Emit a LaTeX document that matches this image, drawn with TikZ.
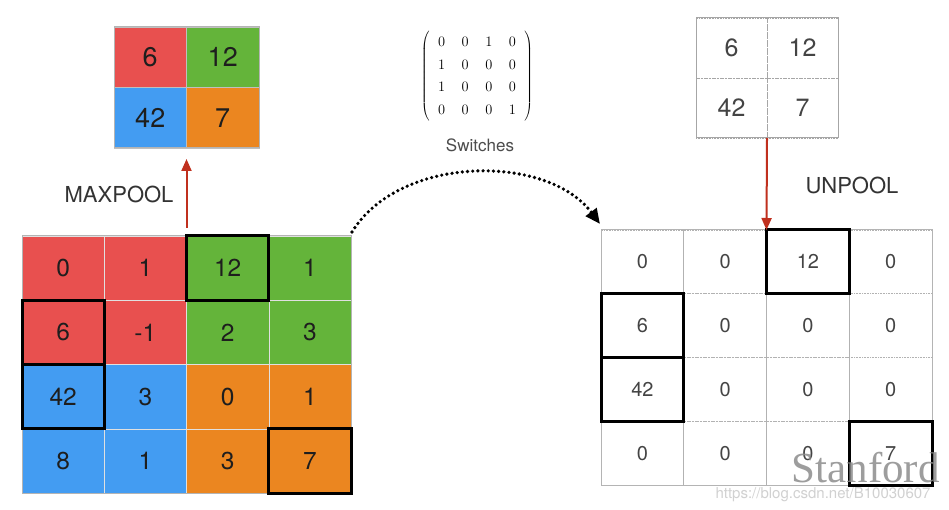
\documentclass[tikz,border=0pt]{standalone}
\usepackage{fontspec}
\setmainfont{TeX Gyre Heros}
\newfontfamily\wmserif{Liberation Serif}
\usetikzlibrary{arrows.meta}
\definecolor{cred}{HTML}{E8504F}
\definecolor{cgreen}{HTML}{64B43A}
\definecolor{cblue}{HTML}{439CF2}
\definecolor{corange}{HTML}{EB8620}
\definecolor{ctext}{HTML}{1E1E1E}
\definecolor{ctextg}{HTML}{444444}
\definecolor{carrow}{HTML}{C0301E}
\definecolor{cborder}{HTML}{B4B4B4}
\tikzset{
  scell/.style={draw=black!25, line width=0.4pt, minimum width=72.5pt, minimum height=60.5pt, inner sep=0pt, outer sep=0pt, text=ctext, font=\fontsize{27}{30}\selectfont},
  bcell/.style={draw=black!12, line width=0.4pt, minimum width=82.25pt, minimum height=64.25pt, inner sep=0pt, outer sep=0pt, text=ctext, font=\fontsize{24.5}{28}\selectfont},
  wscell/.style={draw=black!35, densely dotted, line width=0.6pt, minimum width=71pt, minimum height=60pt, inner sep=0pt, outer sep=0pt, text=ctextg, font=\fontsize{25}{28}\selectfont},
  wbcell/.style={draw=black!30, densely dotted, line width=0.6pt, minimum width=82.75pt, minimum height=63.75pt, inner sep=0pt, outer sep=0pt, text=ctextg, font=\fontsize{20}{24}\selectfont},
  hl/.style={draw=black, line width=3pt},
  frame/.style={draw=cborder, line width=1pt},
  redarrow/.style={draw=carrow, line width=2pt, -{Triangle[length=12pt,width=10pt]}},
  lbl/.style={text=black!80, font=\fontsize{22}{24}\selectfont},
}
\begin{document}
\begin{tikzpicture}[x=1pt,y=-1pt]
\useasboundingbox (0,0) rectangle (949,510);
\fill[white] (0,0) rectangle (949,510);

% ---------- small pooled grid (top left)
\node[scell, fill=cred]    (S11) at (150.25,57.25) {6};
\node[scell, fill=cgreen]  (S12) at (222.75,57.25) {12};
\node[scell, fill=cblue]   (S21) at (150.25,117.75) {42};
\node[scell, fill=corange] (S22) at (222.75,117.75) {7};
\draw[frame] (S11.north west) rectangle (S22.south east);

% ---------- big input grid (bottom left)
\foreach \r/\y in {1/268.125, 2/332.375, 3/396.625, 4/460.875}{
  \foreach \c/\x in {1/63.125, 2/145.375, 3/227.625, 4/309.875}{
    \coordinate (LC\r\c) at (\x,\y);
  }
}
\node[bcell, fill=cred]    (L11) at (LC11) {0};
\node[bcell, fill=cred]    (L12) at (LC12) {1};
\node[bcell, fill=cgreen]  (L13) at (LC13) {12};
\node[bcell, fill=cgreen]  (L14) at (LC14) {1};
\node[bcell, fill=cred]    (L21) at (LC21) {6};
\node[bcell, fill=cred]    (L22) at (LC22) {-1};
\node[bcell, fill=cgreen]  (L23) at (LC23) {2};
\node[bcell, fill=cgreen]  (L24) at (LC24) {3};
\node[bcell, fill=cblue]   (L31) at (LC31) {42};
\node[bcell, fill=cblue]   (L32) at (LC32) {3};
\node[bcell, fill=corange] (L33) at (LC33) {0};
\node[bcell, fill=corange] (L34) at (LC34) {1};
\node[bcell, fill=cblue]   (L41) at (LC41) {8};
\node[bcell, fill=cblue]   (L42) at (LC42) {1};
\node[bcell, fill=corange] (L43) at (LC43) {3};
\node[bcell, fill=corange] (L44) at (LC44) {7};
\draw[frame] (L11.north west) rectangle (L44.south east);
\draw[hl] (L13.north west) rectangle (L13.south east);
\draw[hl] (L21.north west) rectangle (L21.south east);
\draw[hl] (L31.north west) rectangle (L31.south east);
\draw[hl] (L44.north west) rectangle (L44.south east);

% MAXPOOL arrow
\coordinate (mpfrom) at ([yshift=8pt]L13.north west);
\coordinate (mpto) at ([yshift=-11pt]S22.south west);
\draw[redarrow] (mpfrom) -- (mpto);
\node[lbl, anchor=east] (maxpool) at (177,194) {MAXPOOL};

% ---------- switches matrix
\node (switchmat) at (477,76) {\fontsize{15}{18}\selectfont
  \renewcommand{\arraystretch}{1.27}\setlength{\arraycolsep}{8.3pt}%
  $\left(\begin{array}{cccc}
  0&0&1&0\\ 1&0&0&0\\ 1&0&0&0\\ 0&0&0&1
  \end{array}\right)$};
\node[text=black!70, font=\fontsize{17}{20}\selectfont] (switches) at (480,145) {Switches};

% ---------- pooled grid (top right)
\node[wscell] (P11) at (731.5,48) {6};
\node[wscell] (P12) at (802.5,48) {12};
\node[wscell] (P21) at (731.5,108) {42};
\node[wscell] (P22) at (802.5,108) {7};
\draw[frame, draw=black!35] (P11.north west) rectangle (P22.south east);

% ---------- unpooled grid (bottom right)
\foreach \r/\y in {1/261.875, 2/325.625, 3/389.375, 4/453.125}{
  \foreach \c/\x in {1/642.375, 2/725.125, 3/807.875, 4/890.625}{
    \coordinate (RC\r\c) at (\x,\y);
  }
}
\node[wbcell] (R11) at (RC11) {0};
\node[wbcell] (R12) at (RC12) {0};
\node[wbcell] (R13) at (RC13) {12};
\node[wbcell] (R14) at (RC14) {0};
\node[wbcell] (R21) at (RC21) {6};
\node[wbcell] (R22) at (RC22) {0};
\node[wbcell] (R23) at (RC23) {0};
\node[wbcell] (R24) at (RC24) {0};
\node[wbcell] (R31) at (RC31) {42};
\node[wbcell] (R32) at (RC32) {0};
\node[wbcell] (R33) at (RC33) {0};
\node[wbcell] (R34) at (RC34) {0};
\node[wbcell] (R41) at (RC41) {0};
\node[wbcell] (R42) at (RC42) {0};
\node[wbcell] (R43) at (RC43) {0};
\node[wbcell] (R44) at (RC44) {7};
\draw[frame] (R11.north west) rectangle (R44.south east);
\draw[hl] (R13.north west) rectangle (R13.south east);
\draw[hl] (R21.north west) rectangle (R21.south east);
\draw[hl] (R31.north west) rectangle (R31.south east);
\draw[hl] (R44.north west) rectangle (R44.south east);

% UNPOOL arrow
\draw[redarrow] (P21.south east) -- (R13.north west);
\node[lbl, anchor=west] (unpool) at (802,185) {UNPOOL};

% ---------- dotted curved arrow (switches)
\coordinate (swfrom) at ([shift={(1pt,4pt)}]L14.north east);
\coordinate (swto) at ([shift={(-1pt,6pt)}]R11.north west);
\draw[line width=3.6pt, line cap=round, dash pattern=on 0pt off 5.2pt,
      -{Triangle[length=15pt,width=13pt]}]
  (swfrom) .. controls (400,154) and (548,154) .. (swto);

% ---------- watermarks
\node[anchor=base west, text=black!45, opacity=0.85, font=\wmserif\fontsize{43}{44}\selectfont] (stanford) at (788,482) {Stanford};
\node[anchor=base west, text=black!18, font=\fontsize{15}{18}\selectfont] (url) at (712,498) {https://blog.csdn.net/B10030607};
\end{tikzpicture}
\end{document}
